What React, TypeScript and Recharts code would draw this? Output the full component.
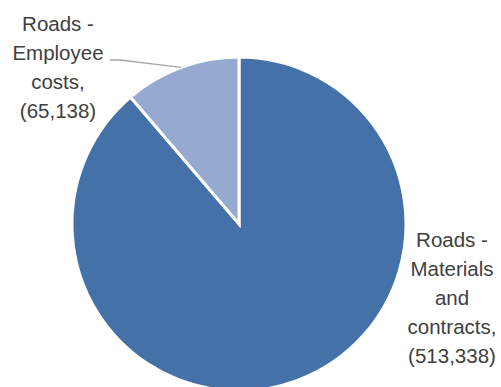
import { PieChart, Pie, Cell } from "recharts";

const categories = ["Roads - Materials and contracts", "Roads - Employee costs"];
const values = [513338, 65138];
const labelLines = [
  ["Roads -", "Materials", "and", "contracts,", "(513,338)"],
  ["Roads -", "Employee", "costs,", "(65,138)"],
];
const colors = ["#4472A8", "#95A9D1"];

const data = categories.map((name, i) => ({ name, value: values[i] }));

const RADIAN = Math.PI / 180;
const LINE_H = 29;

function renderLabel(props: any) {
  const { cx, cy, midAngle, outerRadius, index } = props;
  const lines = labelLines[index];
  const font = { fontFamily: "Liberation Sans, Arial, sans-serif", fontSize: 20.5, fill: "#404040" };
  if (index === 1) {
    const ex = cx + outerRadius * Math.cos(-midAngle * RADIAN);
    const ey = cy + outerRadius * Math.sin(-midAngle * RADIAN);
    const tx = cx - 181;
    const ty = cy - 193;
    return (
      <g>
        <polyline
          points={`${tx + 52},${ty + 29} ${tx + 62},${ty + 29} ${ex},${ey}`}
          fill="none"
          stroke="#A6A6A6"
          strokeWidth={1.3}
        />
        {lines.map((l, i) => (
          <text key={i} x={tx} y={ty + i * LINE_H} textAnchor="middle" {...font}>
            {l}
          </text>
        ))}
      </g>
    );
  }
  const tx = cx + 213;
  const ty = cy + 23;
  return (
    <g>
      {lines.map((l, i) => (
        <text key={i} x={tx} y={ty + i * LINE_H} textAnchor="middle" {...font}>
          {l}
        </text>
      ))}
    </g>
  );
}

export default function App() {
  return (
    <div style={{ position: "absolute", left: 0, top: 0, background: "#fff" }}>
      <PieChart width={501} height={387} margin={{ top: 0, right: 0, bottom: 0, left: 0 }}>
        <Pie
          data={data}
          dataKey="value"
          nameKey="name"
          cx={239}
          cy={224}
          outerRadius={167}
          startAngle={90}
          endAngle={-270}
          stroke="#fff"
          strokeWidth={3}
          label={renderLabel}
          labelLine={false}
          isAnimationActive={false}
        >
          {data.map((d, i) => (
            <Cell key={d.name} fill={colors[i]} />
          ))}
        </Pie>
      </PieChart>
    </div>
  );
}
